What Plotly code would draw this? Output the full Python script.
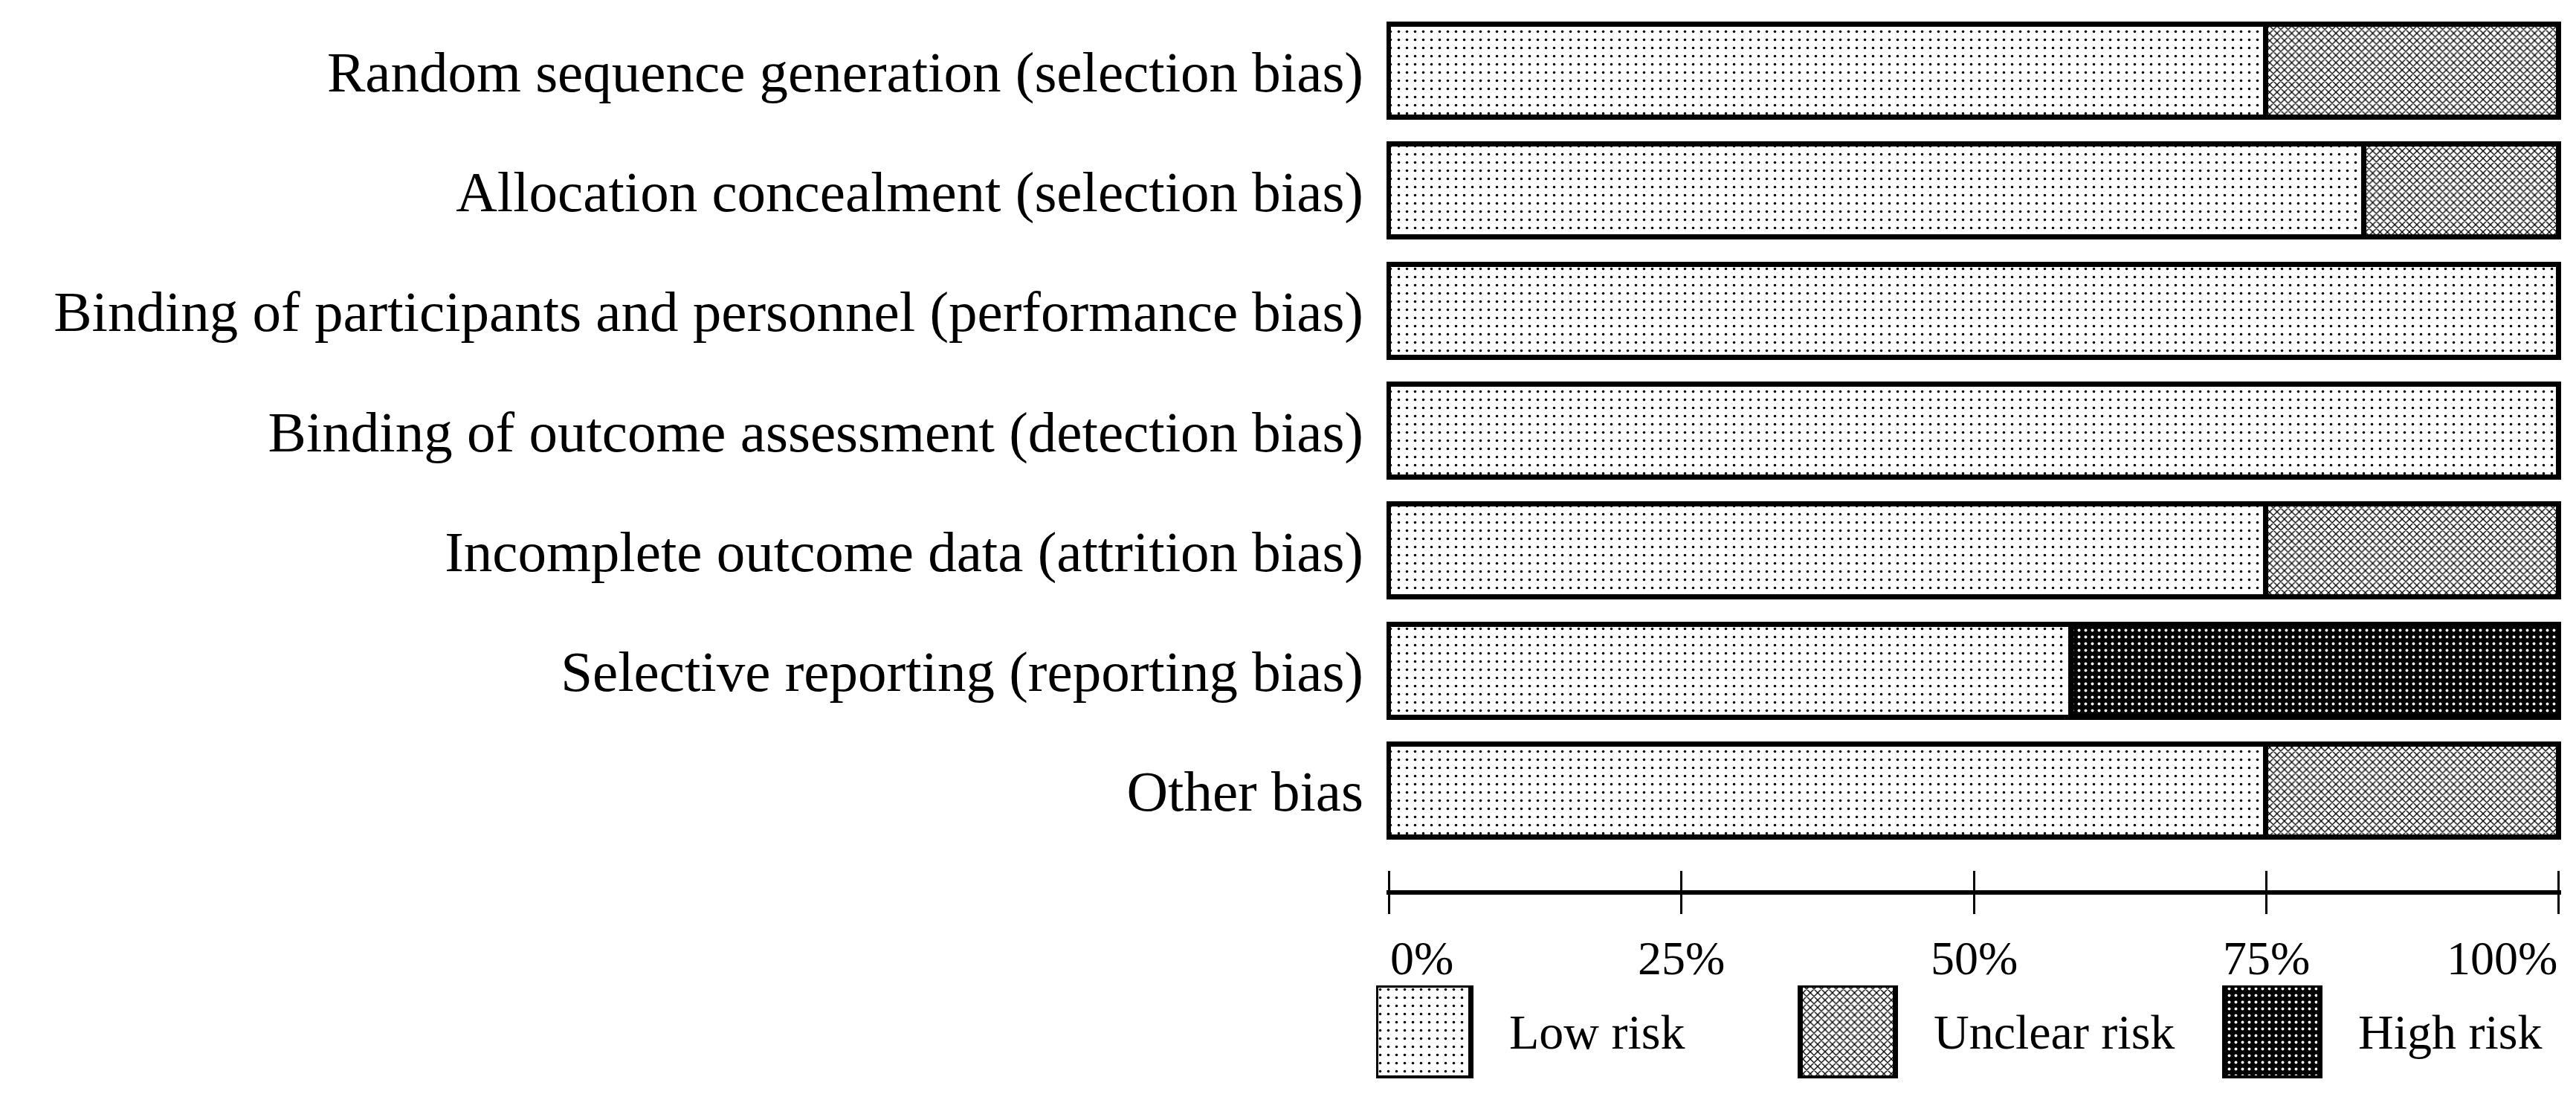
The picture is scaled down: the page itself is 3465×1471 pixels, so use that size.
import plotly.graph_objects as go

# 데이터 (연구 12편 기준)
domains = [
    'Random sequence generation (selection bias)',
    'Allocation concealment (selection bias)',
    'Binding of participants and personnel (performance bias)',
    'Binding of outcome assessment (detection bias)',
    'Incomplete outcome data (attrition bias)',
    'Selective reporting (reporting bias)',
    'Other bias',
]
n_studies = 12
low_risk = [9, 10, 12, 12, 9, 7, 9]
unclear_risk = [3, 2, 0, 0, 3, 0, 3]
high_risk = [0, 0, 0, 0, 0, 5, 0]

risk_names = ['Low risk', 'Unclear risk', 'High risk']
tick_vals = [0, 25, 50, 75, 100]
tick_text = ['0%', '25%', '50%', '75%', '100%']

FONT = 'Liberation Serif'
W, H = 3465, 1471

patterns = {
    'Low risk': dict(shape='.', bgcolor='white', fgcolor='black', fgopacity=1, size=11, solidity=0.08),
    'Unclear risk': dict(shape='x', bgcolor='white', fgcolor='black', fgopacity=1, size=7, solidity=0.35),
    'High risk': dict(shape='.', bgcolor='black', fgcolor='white', fgopacity=1, size=9, solidity=0.15),
}


def pct(counts):
    return [c / n_studies * 100 if c > 0 else None for c in counts]


fig = go.Figure()

# 누적 막대
for name, counts in zip(risk_names, [low_risk, unclear_risk, high_risk]):
    fig.add_trace(go.Bar(
        y=domains, x=pct(counts), orientation='h', name=name,
        width=0.775, showlegend=False, hoverinfo='skip',
        marker=dict(color=patterns[name]['bgcolor'],
                    line=dict(color='black', width=7),
                    pattern=patterns[name]),
        xaxis='x', yaxis='y',
    ))

# 위쪽 눈금용 보조축
fig.add_trace(go.Scatter(x=[], y=[], xaxis='x2', yaxis='y', showlegend=False))

# 범례 (별도 축)
for i, name in enumerate(risk_names):
    fig.add_trace(go.Bar(
        x=[i], y=[1], width=0.225, offset=0, showlegend=False, hoverinfo='skip',
        marker=dict(color=patterns[name]['bgcolor'],
                    line=dict(color='black', width=7),
                    pattern=patterns[name]),
        xaxis='x3', yaxis='y3',
    ))
    fig.add_annotation(x=i + 0.31, y=0.5, xref='x3', yref='y3', text=name,
                       showarrow=False, xanchor='left', yanchor='middle',
                       font=dict(family=FONT, size=66, color='black'))

# x축 눈금 라벨
for k, (v, t) in enumerate(zip(tick_vals, tick_text)):
    anchor = 'left' if k == 0 else ('right' if k == len(tick_vals) - 1 else 'center')
    fig.add_annotation(x=v, y=0.118, xref='x', yref='paper', text=t,
                       showarrow=False, xanchor=anchor, yanchor='middle',
                       font=dict(family=FONT, size=64, color='black'))

l_m, r_m, t_m, b_m = 1800, 28, 7, 20
plot_w = W - l_m - r_m
plot_h = H - t_m - b_m
bar_left = 1857
axis_y = 1189
x_start = (bar_left - l_m) / plot_w
y_bottom = (H - b_m - axis_y) / plot_h
pitch = 161.3
y_low = (axis_y - t_m) / pitch - 0.5

fig.update_layout(
    width=W, height=H,
    margin=dict(l=l_m, r=r_m, t=t_m, b=b_m),
    plot_bgcolor='white', paper_bgcolor='white',
    barmode='stack', bargap=0,
    font=dict(family=FONT, color='black'),
    xaxis=dict(domain=[x_start, 1], range=[-0.2, 100.2], anchor='y',
               showgrid=False, zeroline=False, showline=True, linecolor='black', linewidth=6,
               tickvals=tick_vals, ticks='outside', ticklen=26, tickwidth=3, tickcolor='black',
               showticklabels=False),
    xaxis2=dict(overlaying='x', matches='x', anchor='y', side='bottom',
                showgrid=False, zeroline=False, showline=False,
                tickvals=tick_vals, ticks='inside', ticklen=26, tickwidth=3, tickcolor='black',
                showticklabels=False),
    yaxis=dict(domain=[y_bottom, 1], type='category', categoryorder='array', categoryarray=domains,
               range=[y_low, -0.5], showgrid=False, zeroline=False, showline=False, ticks='',
               ticklabelstandoff=30, tickfont=dict(family=FONT, size=77, color='black')),
    xaxis3=dict(domain=[(1843 - l_m) / plot_w, 1], range=[0, (3437 - 1843) / 571],
                visible=False, anchor='y3'),
    yaxis3=dict(domain=[(H - b_m - 1442) / plot_h, (H - b_m - 1317) / plot_h], range=[0, 1],
                visible=False, anchor='x3'),
)

fig.write_html("out.html")
